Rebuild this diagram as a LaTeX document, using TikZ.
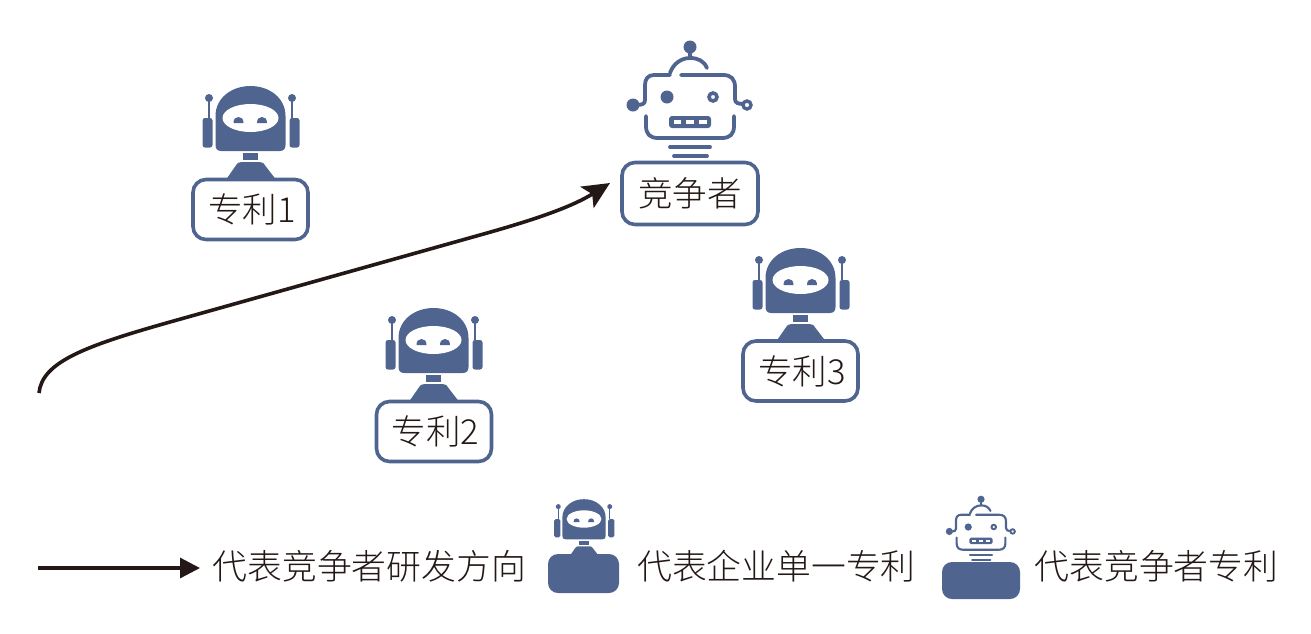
\documentclass[tikz,border=0pt]{standalone}
\usepackage{fontspec}
\setmainfont{Noto Sans CJK SC Light}
\usetikzlibrary{arrows.meta}
\definecolor{robo}{HTML}{4F6590}
\definecolor{ink}{HTML}{231815}
\tikzset{
 label box/.style={draw=robo,line width=3.6pt,fill=white,rounded corners=13pt,minimum height=60pt,text=ink,font=\fontsize{34.5}{40}\selectfont,inner sep=0pt,anchor=center},
 solid box/.style={fill=robo,draw=none,rounded corners=10pt,inner sep=0pt},
 legend text/.style={text=ink,font=\fontsize{34.8}{40}\selectfont,inner sep=0pt,anchor=west},
 flow/.style={draw=ink,line width=3.6pt,-{Stealth[length=27pt,width=25pt,inset=6pt]}},
 flowb/.style={draw=ink,line width=3.2pt,-{Stealth[length=20pt,width=20pt,inset=0pt]}},
}
% patent robot: origin = face centre
\newcommand{\patentbot}[3]{%
\begin{scope}[shift={(#1,#2)},scale=#3]
 \fill[robo,rounded corners=2.5pt*#3] (-48,0) rectangle (-38,29.5);
 \fill[robo,rounded corners=2.5pt*#3] (39,0) rectangle (49,29.5);
 \draw[robo,line width=2.4pt*#3] (-41.5,-20) -- (-41.5,0);
 \draw[robo,line width=2.4pt*#3] (41.5,-20) -- (41.5,0);
 \fill[robo] (-41.5,-20) circle (4);
 \fill[robo] (41.5,-20) circle (4);
 \fill[robo] (-35,27) .. controls (-35,31) and (-33,33) .. (-29,33) -- (29,33) .. controls (33,33) and (35,31) .. (35,27)
   -- (35,-2) .. controls (35,-20) and (19,-32) .. (0,-32) .. controls (-19,-32) and (-35,-20) .. (-35,-2) -- cycle;
 \fill[white] (0,0) ellipse (28 and 14);
 \fill[robo] (-17,5) .. controls (-17,1) and (-15,-1) .. (-12,-1) .. controls (-9,-1) and (-7,1) .. (-7,5) -- cycle;
 \fill[robo] (6.5,5) .. controls (6.5,1) and (8.5,-1) .. (11.5,-1) .. controls (14.5,-1) and (16.5,1) .. (16.5,5) -- cycle;
 \fill[robo] (-7.5,35) rectangle (7.5,42);
 \fill[robo] (-24,61) -- (-15,48) .. controls (-13,45) and (-12,44) .. (-9,44) -- (9,44) .. controls (12,44) and (13,45) .. (15,48) -- (25,61) -- cycle;
\end{scope}}
% competitor robot: origin = level of eyes, head centre
\newcommand{\rivalbot}[3]{%
\begin{scope}[shift={(#1,#2)},scale=#3,line cap=round]
 \tikzset{every path/.style={draw=robo,line width=3.8pt*#3}}
 \fill[robo,draw=none] (0,-50) circle (6.5);
 \draw[line width=4pt*#3] (0,-50) -- (0,-39);
 \draw (-20,-24) .. controls (-17,-33) and (-9,-39) .. (0,-39) .. controls (8,-39) and (14,-36) .. (17,-29);
 \draw (-9,-22) -- (33,-22) .. controls (41,-22) and (45,-18) .. (45,-10) -- (45,2) .. controls (45,6) and (48,7) .. (54,7);
 \draw (-20,-22) -- (-36,-22) .. controls (-42,-22) and (-45,-18) .. (-45,-12) -- (-45,3) .. controls (-45,7) and (-48,8) .. (-54,8);
 \fill[robo,draw=none] (-57,8) circle (6.5);
 \draw[line width=3.4pt*#3,fill=white] (57,8) circle (4);
 \draw (-44,19) -- (-44,29) .. controls (-44,37) and (-40,41) .. (-32,41) -- (32,41) .. controls (40,41) and (44,37) .. (44,29) -- (44,19);
 \fill[robo,draw=none] (-23,0) circle (6.5);
 \draw[line width=3.6pt*#3,fill=white] (23,0) circle (4);
 \fill[robo,draw=none,rounded corners=3pt*#3] (-21,19) rectangle (21,31);
 \fill[white,draw=none] (-16,23) rectangle (-9,27);
 \fill[white,draw=none] (-4,23) rectangle (4,27);
 \fill[white,draw=none] (9,23) rectangle (17,27);
 \draw (-20,50) -- (20,50);
 \draw (-16,59) -- (17,59);
\end{scope}}
\begin{document}
\begin{tikzpicture}[x=1pt,y=-1pt]
\useasboundingbox (0,0) rectangle (1311,633);
\patentbot{250.5}{118}{1}
\patentbot{433.5}{340}{1}
\patentbot{800.5}{280}{1}
\rivalbot{690}{97}{1}
\node[label box,minimum width=115pt] (p1) at (250.5,209.5) {\hspace{2.5pt}专利1};
\node[label box,minimum width=115pt] (p2) at (434,431.5) {\hspace{2.5pt}专利2};
\node[label box,minimum width=115pt] (p3) at (800.5,371) {\hspace{2.5pt}专利3};
\node[label box,minimum width=136pt,minimum height=62pt] (rival) at (690,193.5) {竞争者};
\coordinate (start) at (39,393);
\coordinate (tip) at (610,183);
\draw[flow] (start) .. controls (42,362) and (85,346) .. (170,322) -- (480,235) .. controls (530,221) and (570,208) .. (tip);
\coordinate (la) at (38,568);
\coordinate (lb) at (200,568);
\draw[flowb] (la) -- (lb);
\node[legend text] (t1) at (212.5,566) {代表竞争者研发方向};
\patentbot{584}{519}{0.62}
\node[solid box,minimum width=71pt,minimum height=39pt] (s1) at (583.5,573.5) {};
\node[legend text] (t2) at (637,566) {代表企业单一专利};
\rivalbot{981}{527}{0.555}
\node[solid box,minimum width=78pt,minimum height=37pt] (s2) at (981,580.5) {};
\node[legend text] (t3) at (1034.5,566) {代表竞争者专利};
\end{tikzpicture}
\end{document}
